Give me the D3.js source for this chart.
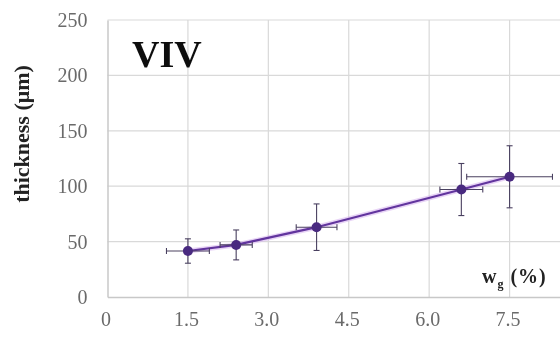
<!DOCTYPE html>
<html>
<head>
<meta charset="utf-8">
<script src="https://cdn.jsdelivr.net/npm/d3@7"></script>
<style>
  html, body { margin: 0; padding: 0; background: #fff; }
  svg { display: block; }
</style>
</head>
<body>
<svg id="chart" width="560" height="337"></svg>
<script>
// Coating thickness versus w_g, with x and y error bars
const wg        = [1.5, 2.4, 3.9, 6.6, 7.5];
const thickness = [41.5, 47, 63, 97, 108.5];
const errY      = [11, 13.5, 21, 23.5, 28];
const errX      = [0.4, 0.3, 0.38, 0.4, 0.8];
const xTicks    = [0, 1.5, 3.0, 4.5, 6.0, 7.5];
const yTicks    = [0, 50, 100, 150, 200, 250];
const panelLabel = "VIV";

const svg = d3.select("#chart");
const serif = "'Liberation Serif', 'Times New Roman', serif";

const x = d3.scaleLinear().domain([0, 9]).range([107.5, 590]);
const y = d3.scaleLinear().domain([0, 250]).range([297, 20]);

const soft = svg.append("defs").append("filter").attr("id", "soft");
soft.append("feGaussianBlur").attr("stdDeviation", 0.55);

const g = svg.append("g").attr("filter", "url(#soft)");

// gridlines
g.append("g").selectAll("line").data(yTicks.slice(1)).join("line")
  .attr("x1", x(0)).attr("x2", 560)
  .attr("y1", d => y(d)).attr("y2", d => y(d))
  .attr("stroke", "#d9d9d9").attr("stroke-width", 1.2);
g.append("g").selectAll("line").data(xTicks.slice(1)).join("line")
  .attr("x1", d => x(d)).attr("x2", d => x(d))
  .attr("y1", y(250)).attr("y2", y(0))
  .attr("stroke", "#d9d9d9").attr("stroke-width", 1.2);

// axes
const xAxis = d3.axisBottom(x).tickValues(xTicks)
  .tickFormat(d => d === 0 ? "0" : d3.format(".1f")(d)).tickSize(0).tickPadding(15);
const yAxis = d3.axisLeft(y).tickValues(yTicks).tickSize(0).tickPadding(20);

const gx = g.append("g").attr("transform", `translate(0,${y(0)})`).call(xAxis);
const gy = g.append("g").attr("transform", `translate(${x(0)},0)`).call(yAxis);
[gx, gy].forEach(a => {
  a.select(".domain").attr("stroke", "#c8c8c8").attr("stroke-width", 1.5);
  a.selectAll("text").attr("fill", "#6a6a6a")
    .style("font-family", serif).style("font-size", "20px");
});
gx.selectAll("text").attr("dx", -2);

// connecting line
const line = d3.line().x((d, i) => x(wg[i])).y(d => y(d));
g.append("path").datum(thickness)
  .attr("d", line).attr("fill", "none")
  .attr("stroke", "#d9b8f0").attr("stroke-width", 5).attr("opacity", 0.6);
g.append("path").datum(thickness)
  .attr("d", line).attr("fill", "none")
  .attr("stroke", "#62359e").attr("stroke-width", 2.2);

// error bars
const cap = 3;
const eb = g.append("g").attr("stroke", "#4a4060").attr("stroke-width", 1.1);
thickness.forEach((v, i) => {
  const cx = x(wg[i]);
  const y0 = y(v - errY[i]), y1 = y(v + errY[i]);
  eb.append("line").attr("x1", cx).attr("x2", cx).attr("y1", y0).attr("y2", y1);
  eb.append("line").attr("x1", cx - cap).attr("x2", cx + cap).attr("y1", y0).attr("y2", y0);
  eb.append("line").attr("x1", cx - cap).attr("x2", cx + cap).attr("y1", y1).attr("y2", y1);
  const cy = y(v);
  const xa = x(wg[i] - errX[i]), xb = x(wg[i] + errX[i]);
  eb.append("line").attr("x1", xa).attr("x2", xb).attr("y1", cy).attr("y2", cy);
  eb.append("line").attr("x1", xa).attr("x2", xa).attr("y1", cy - cap).attr("y2", cy + cap);
  eb.append("line").attr("x1", xb).attr("x2", xb).attr("y1", cy - cap).attr("y2", cy + cap);
});

// markers
g.append("g").selectAll("circle").data(thickness).join("circle")
  .attr("cx", (d, i) => x(wg[i])).attr("cy", d => y(d))
  .attr("r", 5).attr("fill", "#4a2a80");

// panel label
g.append("text").attr("x", 132).attr("y", 67)
  .style("font-family", serif).style("font-size", "38px").style("font-weight", "bold")
  .attr("fill", "#111").text(panelLabel);

// axis titles
g.append("text")
  .attr("transform", `translate(29,134) rotate(-90)`)
  .attr("text-anchor", "middle")
  .style("font-family", serif).style("font-size", "22px").style("font-weight", "bold")
  .attr("fill", "#222").text("thickness (μm)");

const xt = g.append("text").attr("x", 482).attr("y", 283)
  .style("font-family", serif).style("font-size", "20px").style("font-weight", "bold")
  .style("letter-spacing", "1px")
  .attr("fill", "#222");
xt.append("tspan").text("w");
xt.append("tspan").attr("dy", 5).style("font-size", "12px").text("g");
xt.append("tspan").attr("dy", -5).text(" (%)");
</script>
</body>
</html>
